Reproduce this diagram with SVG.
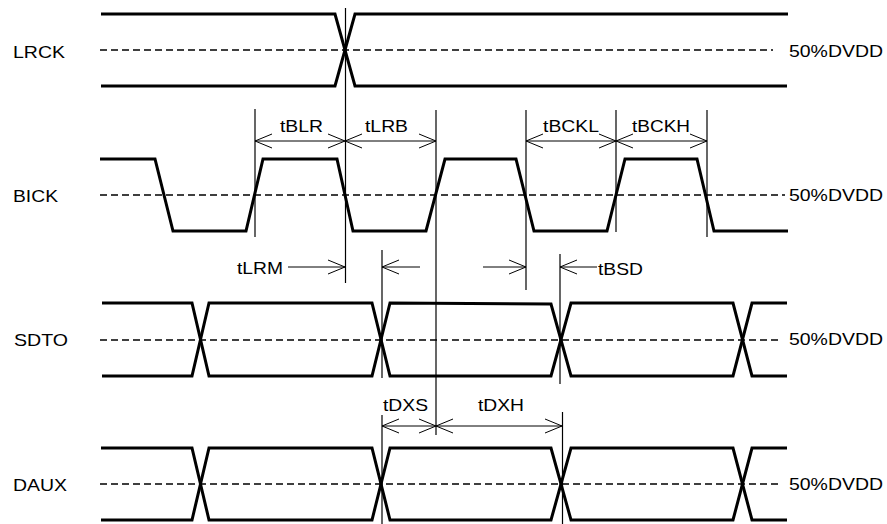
<svg xmlns="http://www.w3.org/2000/svg" width="887" height="524" viewBox="0 0 887 524">
<style>
.w{fill:none;stroke:#000;stroke-width:3;stroke-linejoin:miter}
.d{fill:none;stroke:#000;stroke-width:1.4;stroke-dasharray:7,4}
.v{fill:none;stroke:#000;stroke-width:1.2}
.a{fill:none;stroke:#000;stroke-width:1}
text{font-family:"Liberation Sans",Arial,sans-serif;font-size:17px;fill:#000}
</style>
<defs>
<marker id="ah" viewBox="0 0 20 16" refX="18" refY="8" markerWidth="20" markerHeight="16" markerUnits="userSpaceOnUse" orient="auto-start-reverse">
<path d="M1,1 L18,8 L1,15" fill="none" stroke="#000" stroke-width="1"/>
</marker>
</defs>
<g id="lrck">
<text x="13" y="58" textLength="52" lengthAdjust="spacingAndGlyphs">LRCK</text>
<line class="d" x1="100" y1="50" x2="773" y2="50"/>
<path class="w" d="M101,14 H335 L355,86 H787"/>
<path class="w" d="M101,86 H335 L355,14 H788"/>
<text x="789" y="57" textLength="94" lengthAdjust="spacingAndGlyphs">50%DVDD</text>
</g>
<g id="bick">
<text x="13" y="202" textLength="45" lengthAdjust="spacingAndGlyphs">BICK</text>
<line class="d" x1="100" y1="195" x2="785" y2="195"/>
<path class="w" d="M100,159 H155 L173,231 H246 L263,159 H337 L353,231 H426 L445,159 H516 L534,231 H607 L625,159 H697 L714,231 H788"/>
<text x="789" y="201" textLength="94" lengthAdjust="spacingAndGlyphs">50%DVDD</text>
</g>
<g id="sdto">
<text x="14" y="346" textLength="54" lengthAdjust="spacingAndGlyphs">SDTO</text>
<line class="d" x1="100" y1="340" x2="782" y2="340"/>
<path class="w" d="M102,303 H192 L209,376 H372 L390,303 L551,304 L571,376 H733 L752,303 H787"/>
<path class="w" d="M102,376 H192 L209,303 H372 L390,376 H551 L571,303 H733 L752,376 H787"/>
<text x="789" y="345" textLength="94" lengthAdjust="spacingAndGlyphs">50%DVDD</text>
</g>
<g id="daux">
<text x="13" y="491" textLength="54" lengthAdjust="spacingAndGlyphs">DAUX</text>
<line class="d" x1="100" y1="484" x2="782" y2="484"/>
<path class="w" d="M101,448 H192 L209,520 H372 L390,448 H551 L571,520 H733 L752,448 H787"/>
<path class="w" d="M101,520 H192 L209,448 H372 L390,520 H551 L571,448 H733 L752,520 H787"/>
<text x="789" y="490" textLength="94" lengthAdjust="spacingAndGlyphs">50%DVDD</text>
</g>
<g id="connectors">
<line class="v" x1="345.5" y1="8" x2="345.5" y2="283"/>
<line class="v" x1="436" y1="110" x2="436" y2="435"/>
<line class="v" x1="255" y1="109" x2="255" y2="237"/>
<line class="v" x1="526" y1="110" x2="526" y2="290"/>
<line class="v" x1="616" y1="110" x2="616" y2="232"/>
<line class="v" x1="707" y1="110" x2="707" y2="237"/>
<line class="v" x1="382" y1="250" x2="382" y2="378"/>
<line class="v" x1="382" y1="415" x2="382" y2="524"/>
<line class="v" x1="560" y1="254" x2="560" y2="384"/>
<line class="v" x1="562.5" y1="412" x2="562.5" y2="524"/>
<line class="a" x1="255" y1="141" x2="345" y2="141" marker-start="url(#ah)" marker-end="url(#ah)"/>
<line class="a" x1="345" y1="141" x2="436" y2="141" marker-start="url(#ah)" marker-end="url(#ah)"/>
<line class="a" x1="526" y1="141" x2="616" y2="141" marker-start="url(#ah)" marker-end="url(#ah)"/>
<line class="a" x1="616" y1="141" x2="707" y2="141" marker-start="url(#ah)" marker-end="url(#ah)"/>
<line class="a" x1="288" y1="267" x2="345" y2="267" marker-end="url(#ah)"/>
<line class="a" x1="420" y1="267" x2="382" y2="267" marker-end="url(#ah)"/>
<line class="a" x1="483" y1="267" x2="526" y2="267" marker-end="url(#ah)"/>
<line class="a" x1="597" y1="267" x2="560" y2="267" marker-end="url(#ah)"/>
<line class="a" x1="382" y1="426" x2="436" y2="426" marker-start="url(#ah)" marker-end="url(#ah)"/>
<line class="a" x1="436" y1="426" x2="562" y2="426" marker-start="url(#ah)" marker-end="url(#ah)"/>
</g>
<g id="labels">
<text x="280" y="132" textLength="43" lengthAdjust="spacingAndGlyphs">tBLR</text>
<text x="365" y="132" textLength="43" lengthAdjust="spacingAndGlyphs">tLRB</text>
<text x="543" y="132" textLength="56" lengthAdjust="spacingAndGlyphs">tBCKL</text>
<text x="632" y="132" textLength="58" lengthAdjust="spacingAndGlyphs">tBCKH</text>
<text x="237" y="274" textLength="46" lengthAdjust="spacingAndGlyphs">tLRM</text>
<text x="598" y="275" textLength="45" lengthAdjust="spacingAndGlyphs">tBSD</text>
<text x="383" y="411" textLength="45" lengthAdjust="spacingAndGlyphs">tDXS</text>
<text x="478" y="411" textLength="46" lengthAdjust="spacingAndGlyphs">tDXH</text>
</g>
</svg>
